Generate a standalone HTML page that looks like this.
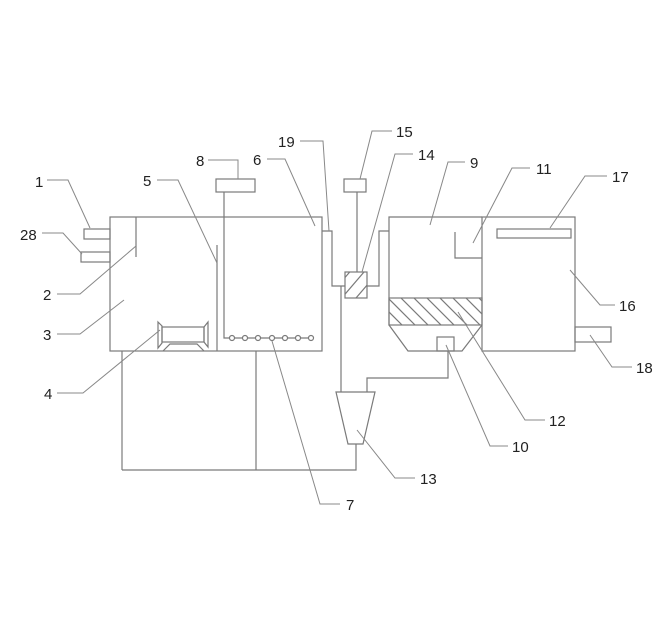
<!DOCTYPE html>
<html><head><meta charset="utf-8"><style>
html,body{margin:0;padding:0;background:#fff;}
svg{display:block;}
text{font-family:"Liberation Sans",Arial,sans-serif;font-size:15px;fill:#222;}
</style></head><body>
<svg width="665" height="644" viewBox="0 0 665 644" xmlns="http://www.w3.org/2000/svg">
<defs>
<clipPath id="c12"><rect x="389" y="298" width="93" height="27"/></clipPath>
<clipPath id="c14"><rect x="345" y="272" width="22" height="26"/></clipPath>
</defs>
<g fill="none" stroke="#7a7a7a" stroke-width="1.2">
<!-- left tank -->
<rect x="110" y="217" width="212" height="134"/>
<line x1="217" y1="245" x2="217" y2="351"/>
<line x1="136" y1="217" x2="136" y2="257"/>
<rect x="84" y="229" width="26" height="10"/>
<rect x="81" y="252" width="29" height="10"/>
<!-- aerator -->
<rect x="216" y="179" width="39" height="13"/>
<polyline points="224,192 224,338 313,338"/>
<g fill="#fff">
<circle cx="232" cy="338" r="2.5"/><circle cx="245" cy="338" r="2.5"/><circle cx="258" cy="338" r="2.5"/><circle cx="272" cy="338" r="2.5"/><circle cx="285" cy="338" r="2.5"/><circle cx="298" cy="338" r="2.5"/><circle cx="311" cy="338" r="2.5"/>
</g>
<!-- fan -->
<rect x="162" y="327" width="42" height="15"/>
<polygon points="204,327 208,322 208,347 204,342"/>
<path d="M158,322 L162,326 L162,343 L158,348 Z"/>
<polyline points="163,351 170,344 197,344 204,351"/>
<!-- stand -->
<line x1="122" y1="351" x2="122" y2="470"/>
<line x1="256" y1="351" x2="256" y2="470"/>
<polyline points="122,470 356,470 356,444"/>
<!-- pipe 19 / 14 / 15 -->
<polyline points="322,231 332,231 332,286 345,286"/>
<rect x="345" y="272" width="22" height="26"/>
<g clip-path="url(#c14)"><line x1="340" y1="300" x2="370" y2="265"/><line x1="350" y1="305" x2="380" y2="270"/><line x1="330" y1="295" x2="360" y2="260"/></g>
<polyline points="367,286 379,286 379,231 389,231"/>
<rect x="344" y="179" width="22" height="13"/>
<line x1="357" y1="192" x2="357" y2="272"/>
<line x1="341" y1="286" x2="341" y2="392"/>
<!-- cone -->
<polygon points="336,392 375,392 363,444 348,444"/>
<polyline points="367,392 367,378 448,378 448,351"/>
<!-- tank 9 -->
<polyline points="482,217 389,217 389,325 408,351 462,351 482,325"/>
<rect x="389" y="298" width="93" height="27"/>
<g clip-path="url(#c12)">
<line x1="380" y1="290" x2="420" y2="330"/><line x1="393" y1="290" x2="433" y2="330"/><line x1="406" y1="290" x2="446" y2="330"/><line x1="419" y1="290" x2="459" y2="330"/><line x1="432" y1="290" x2="472" y2="330"/><line x1="445" y1="290" x2="485" y2="330"/><line x1="458" y1="290" x2="498" y2="330"/><line x1="471" y1="290" x2="511" y2="330"/><line x1="367" y1="290" x2="407" y2="330"/>
</g>
<rect x="437" y="337" width="17" height="14"/>
<polyline points="455,232 455,258 482,258"/>
<!-- tank 16 -->
<rect x="482" y="217" width="93" height="134"/>
<rect x="497" y="229" width="74" height="9"/>
<rect x="575" y="327" width="36" height="15"/>
</g>
<!-- leaders -->
<g fill="none" stroke="#888" stroke-width="1">
<polyline points="47,180 68,180 90,228"/>
<polyline points="42,233 63,233 82,254"/>
<polyline points="57,294 80,294 136,246"/>
<polyline points="57,334 80,334 124,300"/>
<polyline points="57,393 83,393 160,330"/>
<polyline points="157,180 178,180 217,263"/>
<polyline points="208,160 238,160 238,179"/>
<polyline points="267,159 285,159 315,226"/>
<polyline points="300,141 323,141 329,231"/>
<polyline points="392,131 372,131 360,179"/>
<polyline points="413,154 395,154 362,272"/>
<polyline points="465,162 448,162 430,225"/>
<polyline points="530,168 512,168 473,243"/>
<polyline points="607,176 585,176 550,228"/>
<polyline points="615,305 600,305 570,270"/>
<polyline points="632,367 612,367 590,335"/>
<polyline points="545,420 525,420 458,312"/>
<polyline points="508,446 490,446 446,345"/>
<polyline points="415,478 395,478 357,430"/>
<polyline points="340,504 320,504 272,341"/>
</g>
<g>
<text x="35" y="187">1</text>
<text x="20" y="240">28</text>
<text x="43" y="300">2</text>
<text x="43" y="340">3</text>
<text x="44" y="399">4</text>
<text x="143" y="186">5</text>
<text x="196" y="166">8</text>
<text x="253" y="165">6</text>
<text x="278" y="147">19</text>
<text x="396" y="137">15</text>
<text x="418" y="160">14</text>
<text x="470" y="168">9</text>
<text x="536" y="174">11</text>
<text x="612" y="182">17</text>
<text x="619" y="311">16</text>
<text x="636" y="373">18</text>
<text x="549" y="426">12</text>
<text x="512" y="452">10</text>
<text x="420" y="484">13</text>
<text x="346" y="510">7</text>
</g>
</svg>
</body></html>
